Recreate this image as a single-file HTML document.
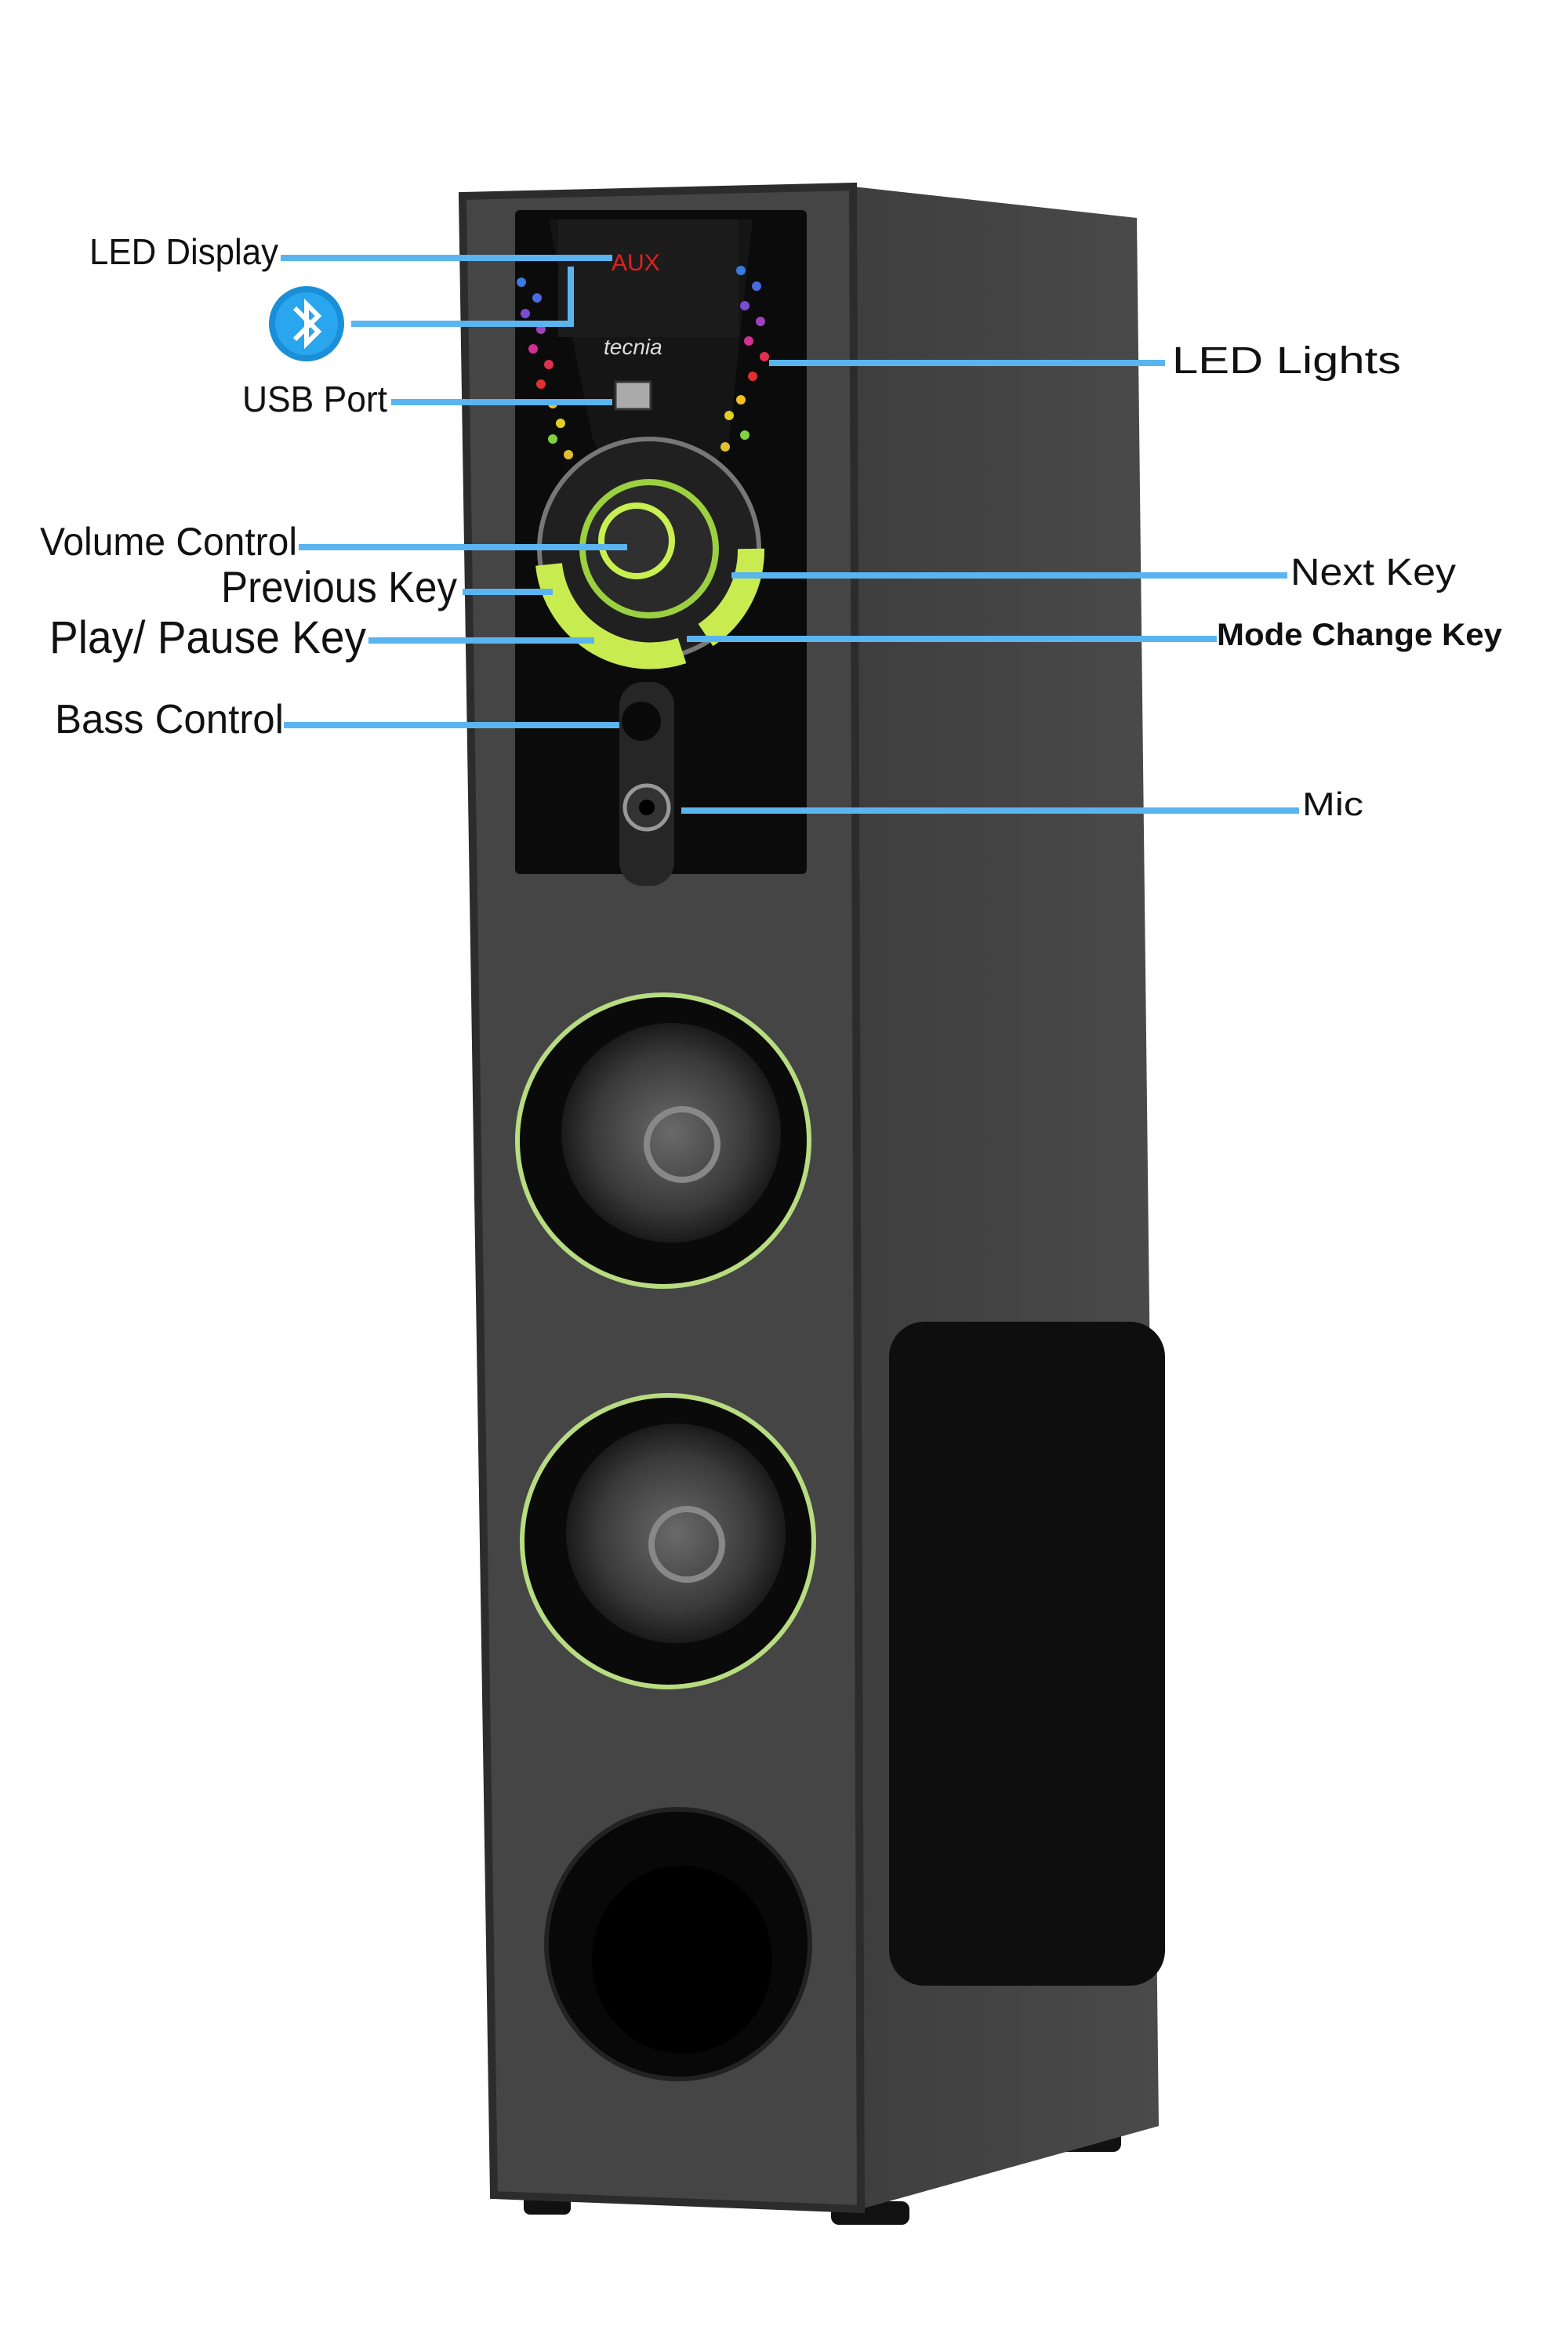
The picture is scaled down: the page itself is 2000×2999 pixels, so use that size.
<!DOCTYPE html>
<html><head><meta charset="utf-8"><style>
html,body{margin:0;padding:0;background:#fff}
svg{display:block}
text{font-family:"Liberation Sans",sans-serif;fill:#111}
</style></head><body>
<svg width="2000" height="2999" viewBox="0 0 2000 2999" xmlns="http://www.w3.org/2000/svg">
<defs>
<radialGradient id="grill" cx="50%" cy="50%" r="50%"><stop offset="0" stop-color="#6a6a6a"/><stop offset="0.7" stop-color="#3a3a3a"/><stop offset="1" stop-color="#1a1a1a"/></radialGradient>
<linearGradient id="side" x1="0" x2="1"><stop offset="0" stop-color="#3e3e3e"/><stop offset="1" stop-color="#4a4a4a"/></linearGradient>
</defs>
<rect x="668" y="2795" width="60" height="30" rx="8" fill="#111"/>
<rect x="1060" y="2808" width="100" height="30" rx="10" fill="#111"/>
<rect x="1350" y="2715" width="80" height="30" rx="10" fill="#111"/>
<polygon points="1088,238 1450,278 1478,2712 1098,2818" fill="url(#side)"/>
<polygon points="590,250 1088,238 1098,2818 630,2800" fill="#454545"/>
<polygon points="590,250 1088,238 1098,2818 630,2800" fill="none" stroke="#2c2c2c" stroke-width="10"/>
<rect x="657" y="268" width="372" height="847" rx="6" fill="#0b0b0b"/>
<path d="M700,280 L960,280 L930,560 Q890,640 843,640 Q796,640 756,560 Z" fill="#151515"/>
<rect x="712" y="280" width="230" height="150" fill="#1c1c1c"/>
<text x="780" y="345" font-family="Liberation Mono,monospace" font-size="30" style="fill:#e02020">AUX</text>
<text x="770" y="452" font-size="28" style="fill:#ddd;font-style:italic">tecnia</text>
<rect x="785" y="487" width="45" height="35" fill="#aaa" stroke="#333" stroke-width="3"/>
<g>
<circle cx="665" cy="360" r="6" fill="#3a7be0"/><circle cx="685" cy="380" r="6" fill="#4a6ae0"/><circle cx="670" cy="400" r="6" fill="#7a4ad0"/><circle cx="690" cy="420" r="6" fill="#a040c0"/><circle cx="680" cy="445" r="6" fill="#d03090"/><circle cx="700" cy="465" r="6" fill="#e03050"/><circle cx="690" cy="490" r="6" fill="#e03030"/><circle cx="705" cy="515" r="6" fill="#f0c020"/><circle cx="715" cy="540" r="6" fill="#e0d020"/><circle cx="705" cy="560" r="6" fill="#80d040"/><circle cx="725" cy="580" r="6" fill="#e0c030"/>
<circle cx="945" cy="345" r="6" fill="#3a7be0"/><circle cx="965" cy="365" r="6" fill="#4a6ae0"/><circle cx="950" cy="390" r="6" fill="#7a4ad0"/><circle cx="970" cy="410" r="6" fill="#a040c0"/><circle cx="955" cy="435" r="6" fill="#d03090"/><circle cx="975" cy="455" r="6" fill="#e03050"/><circle cx="960" cy="480" r="6" fill="#e03030"/><circle cx="945" cy="510" r="6" fill="#f0c020"/><circle cx="930" cy="530" r="6" fill="#e0d020"/><circle cx="950" cy="555" r="6" fill="#80d040"/><circle cx="925" cy="570" r="6" fill="#e0c030"/>
</g>
<circle cx="828" cy="700" r="140" fill="#202020" stroke="#777" stroke-width="6"/>
<circle cx="828" cy="700" r="85" fill="#2a2a2a" stroke="#9bd040" stroke-width="8"/>
<circle cx="812" cy="690" r="45" fill="#303030" stroke="#c8f050" stroke-width="8"/>
<path d="M700,720 A130,130 0 0 0 870,830" stroke="#c8ec50" stroke-width="34" fill="none"/>
<path d="M958,700 A130,130 0 0 1 900,810" stroke="#c8ec50" stroke-width="34" fill="none"/>
<rect x="790" y="870" width="70" height="260" rx="30" fill="#262626"/>
<circle cx="818" cy="920" r="25" fill="#0a0a0a"/>
<circle cx="825" cy="1030" r="28" fill="#333" stroke="#999" stroke-width="5"/>
<circle cx="825" cy="1030" r="10" fill="#000"/>
<g>
<circle cx="846" cy="1455" r="186" fill="#0a0a0a" stroke="#b8dc80" stroke-width="6"/>
<circle cx="856" cy="1445" r="140" fill="url(#grill)"/>
<circle cx="870" cy="1460" r="45" fill="none" stroke="#888" stroke-width="8"/>
<circle cx="852" cy="1966" r="186" fill="#0a0a0a" stroke="#b8dc80" stroke-width="6"/>
<circle cx="862" cy="1956" r="140" fill="url(#grill)"/>
<circle cx="876" cy="1970" r="45" fill="none" stroke="#888" stroke-width="8"/>
<ellipse cx="865" cy="2480" rx="168" ry="172" fill="#080808" stroke="#222" stroke-width="6"/>
<ellipse cx="870" cy="2500" rx="115" ry="120" fill="#000"/>
</g>
<rect x="1134" y="1686" width="352" height="847" rx="45" fill="#0e0e0e"/>
<g stroke="#5ab4f0" stroke-width="8" fill="none">
<line x1="358" y1="329" x2="781" y2="329"/>
<polyline points="448,413 728,413 728,340"/>
<line x1="499" y1="513" x2="781" y2="513"/>
<line x1="981" y1="463" x2="1486" y2="463"/>
<line x1="381" y1="698" x2="800" y2="698"/>
<line x1="590" y1="755" x2="705" y2="755"/>
<line x1="470" y1="817" x2="758" y2="817"/>
<line x1="362" y1="925" x2="790" y2="925"/>
<line x1="933" y1="734" x2="1642" y2="734"/>
<line x1="876" y1="815" x2="1552" y2="815"/>
<line x1="869" y1="1034" x2="1657" y2="1034"/>
</g>
<circle cx="391" cy="413" r="48" fill="#1a8fd8"/>
<circle cx="391" cy="413" r="40" fill="#2aa6ee"/>
<path d="M376,393 L406,423 L391,438 L391,388 L406,403 L376,433" stroke="#fff" stroke-width="6" fill="none"/>
<text x="114" y="337" font-size="46" textLength="241" lengthAdjust="spacingAndGlyphs">LED Display</text>
<text x="309" y="525" font-size="46" textLength="185" lengthAdjust="spacingAndGlyphs">USB Port</text>
<text x="1495" y="476" font-size="48" textLength="292" lengthAdjust="spacingAndGlyphs">LED Lights</text>
<text x="51" y="708" font-size="50" textLength="328" lengthAdjust="spacingAndGlyphs">Volume Control</text>
<text x="282" y="768" font-size="56" textLength="301" lengthAdjust="spacingAndGlyphs">Previous Key</text>
<text x="63" y="833" font-size="58" textLength="404" lengthAdjust="spacingAndGlyphs">Play/ Pause Key</text>
<text x="70" y="935" font-size="52" textLength="292" lengthAdjust="spacingAndGlyphs">Bass Control</text>
<text x="1646" y="746" font-size="48" textLength="211" lengthAdjust="spacingAndGlyphs">Next Key</text>
<text x="1552" y="823" font-size="40" font-weight="bold" textLength="364" lengthAdjust="spacingAndGlyphs">Mode Change Key</text>
<text x="1661" y="1040" font-size="42" textLength="78" lengthAdjust="spacingAndGlyphs">Mic</text>
</svg>
</body></html>
